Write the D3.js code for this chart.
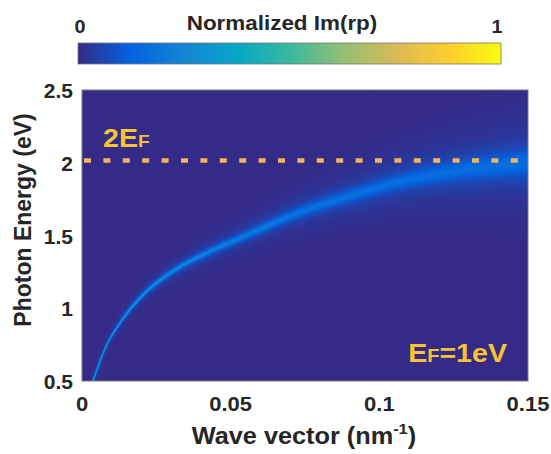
<!DOCTYPE html>
<html>
<head>
<meta charset="utf-8">
<script src="https://cdn.jsdelivr.net/npm/d3@7"></script>
<style>
  body { margin: 0; background: #fff; }
  text { font-family: Arial, "Liberation Sans", sans-serif; font-weight: bold; }
</style>
</head>
<body>
<div id="chart"></div>
<script>
// axis ticks
const xTicks = [0, 0.05, 0.1, 0.15];
const xTickLabels = ["0", "0.05", "0.1", "0.15"];
const yTicks = [0.5, 1, 1.5, 2, 2.5];
const yTickLabels = ["0.5", "1", "1.5", "2", "2.5"];

// plasmon ridge: wave vector (nm^-1), energy (eV)
const ridgeQ = [0.0037, 0.0077, 0.0135, 0.0195, 0.0306, 0.042, 0.053, 0.0733, 0.09, 0.107, 0.125, 0.15];
const ridgeE = [0.50, 0.72, 0.92, 1.07, 1.255, 1.38, 1.48, 1.66, 1.77, 1.87, 1.94, 2.0];
// half width (eV) and peak value (normalized) along the ridge
const ridgeWidth = [0.003, 0.0038, 0.006, 0.009, 0.014, 0.018, 0.022, 0.029, 0.035, 0.043, 0.055, 0.075];
const ridgePeak = [0.40, 0.38, 0.34, 0.30, 0.26, 0.23, 0.20, 0.165, 0.15, 0.14, 0.13, 0.128];
// faint broad glow around the ridge at large q
const haloWidth = [0.01, 0.01, 0.01, 0.01, 0.02, 0.03, 0.05, 0.08, 0.10, 0.12, 0.14, 0.16];
const haloPeak = [0, 0, 0, 0, 0, 0.005, 0.01, 0.02, 0.025, 0.03, 0.035, 0.04];

const fermiLevel = 2.015;   // dashed 2EF line

// parula colormap stops
const parulaStops = [0, 0.125, 0.25, 0.375, 0.5, 0.625, 0.75, 0.875, 1];
const parulaColors = ["#352A87", "#0363E1", "#1485D4", "#06A7C6", "#38B99E", "#92BF73", "#D9BA56", "#FCCE2E", "#F9FB0E"];

const W = 551, H = 454;
const margin = { top: 90, left: 82, right: 23, bottom: 73 };
const width = W - margin.left - margin.right,
      height = H - margin.top - margin.bottom;

const x = d3.scaleLinear().domain([0, 0.15]).range([0, width]);
const y = d3.scaleLinear().domain([0.5, 2.5]).range([height, 0]);
const color = d3.scaleLinear().domain(parulaStops).range(parulaColors).interpolate(d3.interpolateRgb).clamp(true);
const wScale = d3.scaleLinear().domain(ridgeQ).range(ridgeWidth).clamp(true);
const pScale = d3.scaleLinear().domain(ridgeQ).range(ridgePeak).clamp(true);
const hwScale = d3.scaleLinear().domain(ridgeQ).range(haloWidth).clamp(true);
const hpScale = d3.scaleLinear().domain(ridgeQ).range(haloPeak).clamp(true);

const svg = d3.select("#chart").append("svg")
    .attr("width", W)
    .attr("height", H);

// text that is a little wider than the font, like the original figure
function label(parent, tx, ty, size, sx, anchor) {
    return parent.append("text")
        .attr("transform", `translate(${tx},${ty}) scale(${sx},1)`)
        .attr("text-anchor", anchor || "middle")
        .attr("font-size", size)
        .attr("fill", "#262626");
}

// ridge curve in plot pixel coords
const ridge = ridgeQ.map((q, i) => ({ q: q, e: ridgeE[i] }));
const line = d3.line().x(d => x(d.q)).y(d => y(d.e)).curve(d3.curveMonotoneX);
const probe = svg.append("path").attr("d", line(ridge)).attr("fill", "none").attr("stroke", "none");
const node = probe.node();
const total = node.getTotalLength();
const pxPerEv = height / 2;

// render the heat map onto a canvas
const cw = Math.round(width), ch = Math.round(height);
const main = new Float32Array(cw * ch);
const halo = new Float32Array(cw * ch);

function splat(buf, px, py, w, peak) {
    if (peak <= 0) return;
    const r = Math.ceil(5 * w + 2);
    const w2 = w * w;
    const x0 = Math.max(0, Math.floor(px - r)), x1 = Math.min(cw - 1, Math.ceil(px + r));
    const y0 = Math.max(0, Math.floor(py - r)), y1 = Math.min(ch - 1, Math.ceil(py + r));
    for (let j = y0; j <= y1; j++) {
        const dy = j + 0.5 - py;
        for (let i = x0; i <= x1; i++) {
            const dx = i + 0.5 - px;
            const v = peak / (1 + (dx * dx + dy * dy) / w2);
            const k = j * cw + i;
            if (v > buf[k]) buf[k] = v;
        }
    }
}

for (let s = 0; s <= total; s += 0.3) {
    const pt = node.getPointAtLength(s);
    const q = x.invert(pt.x);
    const w = Math.max(0.55, wScale(q) * pxPerEv);
    splat(main, pt.x, pt.y, w, pScale(q));
    splat(halo, pt.x, pt.y, hwScale(q) * pxPerEv, hpScale(q));
}
probe.remove();

const canvas = document.createElement("canvas");
canvas.width = cw; canvas.height = ch;
const ctx = canvas.getContext("2d");
const img = ctx.createImageData(cw, ch);
for (let k = 0; k < cw * ch; k++) {
    const c = d3.rgb(color(Math.min(1, main[k] + halo[k])));
    img.data[4 * k] = c.r;
    img.data[4 * k + 1] = c.g;
    img.data[4 * k + 2] = c.b;
    img.data[4 * k + 3] = 255;
}
ctx.putImageData(img, 0, 0);

const g = svg.append("g").attr("transform", `translate(${margin.left},${margin.top})`);

g.append("image")
    .attr("width", width)
    .attr("height", height)
    .attr("preserveAspectRatio", "none")
    .attr("href", canvas.toDataURL());

// 2EF dashed line
g.append("line")
    .attr("x1", 2).attr("x2", width)
    .attr("y1", y(fermiLevel)).attr("y2", y(fermiLevel))
    .attr("stroke", "#F4B45A")
    .attr("stroke-width", 4.5)
    .attr("stroke-dasharray", "7,12.4");

// frame
g.append("rect")
    .attr("width", width).attr("height", height)
    .attr("fill", "none").attr("stroke", "#7a7a7a").attr("stroke-width", 1);

// tick labels
xTicks.forEach((d, i) => {
    label(g, x(d), height + 30, 20, 1.1).text(xTickLabels[i]);
});
yTicks.forEach((d, i) => {
    label(g, -9, y(d) + 8, 20, 1.05, "end").text(yTickLabels[i]);
});

// axis titles
const xl = label(svg, 304, 444, 23, 1.1);
xl.append("tspan").text("Wave vector (nm");
xl.append("tspan").attr("font-size", 15).attr("dy", -10).text("-1");
xl.append("tspan").attr("dy", 10).text(")");

svg.append("text")
    .attr("transform", "translate(31,220) rotate(-90)")
    .attr("text-anchor", "middle")
    .attr("font-size", 23).attr("fill", "#262626")
    .text("Photon Energy (eV)");

// annotations
const a1 = label(g, 21, 57, 25.5, 1.12, "start").attr("fill", "#F7C431");
a1.append("tspan").text("2E");
a1.append("tspan").attr("font-size", 17).text("F");

const a2 = label(g, width - 21, 272, 26, 1.1, "end").attr("fill", "#F7C431");
a2.append("tspan").text("E");
a2.append("tspan").attr("font-size", 18).text("F");
a2.append("tspan").text("=1eV");

// colorbar
const cb = { x: 78, y: 43, w: 423, h: 21 };
const grad = svg.append("defs").append("linearGradient").attr("id", "parula");
parulaStops.forEach((s, i) => {
    grad.append("stop").attr("offset", s).attr("stop-color", parulaColors[i]);
});
svg.append("rect")
    .attr("x", cb.x).attr("y", cb.y).attr("width", cb.w).attr("height", cb.h)
    .attr("fill", "url(#parula)").attr("stroke", "#777").attr("stroke-width", 0.8);

label(svg, 80, 33, 18, 1.1).text("0");
label(svg, 497, 33, 18, 1.1).text("1");
label(svg, 282, 29.5, 19.5, 1.15).text("Normalized Im(rp)");
</script>
</body>
</html>
